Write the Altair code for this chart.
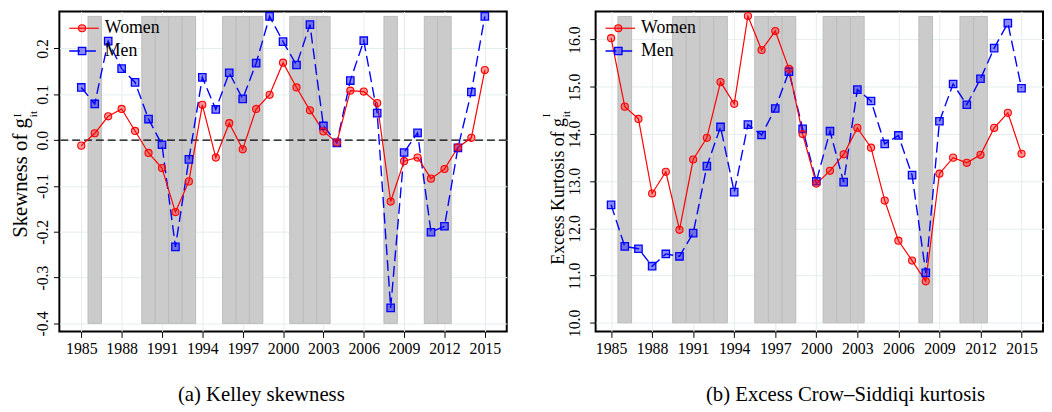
import altair as alt
import pandas as pd

years = list(range(1985, 2016))
skew_women = [-0.012, 0.015, 0.052, 0.068, 0.020, -0.028, -0.061, -0.157, -0.090, 0.077,
              -0.038, 0.037, -0.020, 0.068, 0.099, 0.169, 0.115, 0.065, 0.019, -0.005,
              0.108, 0.106, 0.081, -0.134, -0.046, -0.038, -0.084, -0.063, -0.016, 0.005, 0.153]
skew_men = [0.115, 0.079, 0.216, 0.156, 0.126, 0.046, -0.010, -0.233, -0.042, 0.137,
            0.067, 0.147, 0.090, 0.168, 0.270, 0.215, 0.164, 0.252, 0.031, -0.006,
            0.130, 0.217, 0.059, -0.366, -0.027, 0.016, -0.201, -0.188, -0.017, 0.105, 0.270]
kurt_women = [16.03, 14.58, 14.32, 12.74, 13.20, 11.97, 13.46, 13.92, 15.10, 14.64,
              16.50, 15.78, 16.18, 15.38, 14.00, 12.95, 13.22, 13.57, 14.13, 13.71,
              12.59, 11.74, 11.32, 10.88, 13.16, 13.50, 13.39, 13.56, 14.13, 14.45, 13.58]
kurt_men = [12.50, 11.62, 11.57, 11.20, 11.46, 11.41, 11.90, 13.32, 14.15, 12.77,
            14.20, 13.98, 14.54, 15.32, 14.11, 13.00, 14.06, 12.98, 14.94, 14.70,
            13.79, 13.97, 13.13, 11.06, 14.27, 15.06, 14.62, 15.17, 15.82, 16.35, 14.97]

shaded_years = [1986, 1990, 1991, 1992, 1993, 1996, 1997, 1998, 2001, 2002, 2003, 2008, 2011, 2012]
x_ticks = [1985, 1988, 1991, 1994, 1997, 2000, 2003, 2006, 2009, 2012, 2015]
skew_ticks = [-0.4, -0.3, -0.2, -0.1, 0.0, 0.1, 0.2]
kurt_ticks = [10.0, 11.0, 12.0, 13.0, 14.0, 15.0, 16.0]
skew_band = [-0.4, 0.27]
kurt_band = [10.0, 16.49]

FONT = "Liberation Serif"
W, H = 453, 324
RED = "#ff0000"
BLUE = "#0000ff"


def panel(women, men, xdom, ydom, yticks, band, ytitle, tfont, title_x, title_end_y,
          sup_x, sub_x, sup_y, label_pad, caption, cap_x, zero_line):
    xs = alt.Scale(domain=xdom, nice=False, zero=False)
    ys = alt.Scale(domain=ydom, nice=False, zero=False)
    xaxis = alt.Axis(values=x_ticks, format="d", labelPadding=3, title=None, grid=True,
                     labelFlush=False, labelOverlap=False)
    yaxis = alt.Axis(values=yticks, labelExpr="replace(format(datum.value, '.1f'), '\u2212', '-')",
                     labelAngle=270, labelAlign="center", labelBaseline="alphabetic",
                     labelPadding=label_pad, title=None, grid=True, labelOverlap=False,
                     labelFlush=False)

    rect_df = pd.DataFrame({"year": shaded_years})
    rects = alt.Chart(rect_df).transform_calculate(
        x0="datum.year - 0.5", x1="datum.year + 0.5",
        y0=str(band[0]), y1=str(band[1])
    ).mark_rect(fill="#cbcbcb", stroke="#bcbcbc", strokeWidth=1).encode(
        x=alt.X("x0:Q", scale=xs, axis=xaxis),
        x2="x1:Q",
        y=alt.Y("y0:Q", scale=ys, axis=yaxis),
        y2="y1:Q",
    )

    df = pd.DataFrame({"year": years, "women": women, "men": men})
    base = alt.Chart(df)
    wline = base.mark_line(color=RED, strokeWidth=1.2).encode(
        x=alt.X("year:Q", scale=xs), y=alt.Y("women:Q", scale=ys))
    mline = base.mark_line(color=BLUE, strokeWidth=1.4, strokeDash=[11, 5]).encode(
        x=alt.X("year:Q", scale=xs), y=alt.Y("men:Q", scale=ys))
    wpts = base.mark_point(shape="circle", filled=True, size=52, fill=RED, fillOpacity=0.4,
                           stroke=RED, strokeWidth=1.1, opacity=1).encode(
        x=alt.X("year:Q", scale=xs), y=alt.Y("women:Q", scale=ys))
    mpts = base.mark_point(shape="square", filled=True, size=56, fill=BLUE, fillOpacity=0.45,
                           stroke=BLUE, strokeWidth=1.3, opacity=1).encode(
        x=alt.X("year:Q", scale=xs), y=alt.Y("men:Q", scale=ys))

    layers = [rects]
    if zero_line:
        zdf = pd.DataFrame({"z": [0.0]})
        layers.append(alt.Chart(zdf).mark_rule(color="black", strokeWidth=1.2,
                                               strokeDash=[8, 4]).encode(
            y=alt.Y("z:Q", scale=ys)))
    layers += [mline, wline, mpts, wpts]

    one = pd.DataFrame({"a": [0]})
    # legend
    layers.append(alt.Chart(one).mark_rule(color=RED, strokeWidth=1.2).encode(
        x=alt.value(10), x2=alt.value(40), y=alt.value(17)))
    layers.append(alt.Chart(one).mark_point(shape="circle", filled=True, size=52, fill=RED,
                                            fillOpacity=0.4, stroke=RED, strokeWidth=1.1,
                                            opacity=1).encode(
        x=alt.value(23), y=alt.value(17)))
    layers.append(alt.Chart(one).mark_rule(color=BLUE, strokeWidth=1.4, strokeDash=[11, 5]).encode(
        x=alt.value(10), x2=alt.value(40), y=alt.value(40)))
    layers.append(alt.Chart(one).mark_point(shape="square", filled=True, size=56, fill=BLUE,
                                            fillOpacity=0.45, stroke=BLUE, strokeWidth=1.3,
                                            opacity=1).encode(
        x=alt.value(23), y=alt.value(40)))
    layers.append(alt.Chart(one).mark_text(text="Women", font=FONT, fontSize=18, align="left",
                                           baseline="middle", color="black").encode(
        x=alt.value(46), y=alt.value(17)))
    layers.append(alt.Chart(one).mark_text(text="Men", font=FONT, fontSize=18, align="left",
                                           baseline="middle", color="black").encode(
        x=alt.value(46), y=alt.value(40)))
    # y title
    layers.append(alt.Chart(one).mark_text(text=ytitle, font=FONT, fontSize=tfont, angle=270,
                                           align="right", baseline="alphabetic",
                                           color="black").encode(
        x=alt.value(title_x), y=alt.value(title_end_y)))
    layers.append(alt.Chart(one).mark_text(text="I", font=FONT, fontSize=11, angle=270,
                                           align="left", baseline="alphabetic",
                                           color="black").encode(
        x=alt.value(sup_x), y=alt.value(sup_y)))
    layers.append(alt.Chart(one).mark_text(text="it", font=FONT, fontSize=11, angle=270,
                                           align="left", baseline="alphabetic",
                                           color="black").encode(
        x=alt.value(sub_x), y=alt.value(sup_y)))
    # caption
    layers.append(alt.Chart(one).mark_text(text=caption, font=FONT, fontSize=21, align="center",
                                           baseline="middle", color="black").encode(
        x=alt.value(cap_x), y=alt.value(388)))

    return alt.layer(*layers).properties(width=W, height=H)


left = panel(skew_women, skew_men, [1983.37, 2016.63], [-0.4175, 0.2808], skew_ticks,
             skew_band, "Skewness of g", 21, -33, 108, -39, -23, 107, 6,
             "(a) Kelley skewness", 204.5, True)
right = panel(kurt_women, kurt_men, [1983.87, 2016.57], [9.818, 16.596], kurt_ticks,
              kurt_band, "Excess Kurtosis of g", 18, -32, 108, -46, -26, 107, 10,
              "(b) Excess Crow\u2013Siddiqi kurtosis", 253, False)

chart = alt.hconcat(left, right, spacing=32).properties(
    padding={"left": 1, "top": -2, "right": 0, "bottom": 0}
).configure_view(
    stroke="black", strokeWidth=2
).configure_axis(
    labelFont=FONT, labelFontSize=16, labelColor="black", tickColor="black",
    tickSize=6, tickWidth=1, domain=False, gridColor="#e4eded", gridWidth=1
)

chart.save("out.html", embed_options={"renderer": "svg", "actions": False})
